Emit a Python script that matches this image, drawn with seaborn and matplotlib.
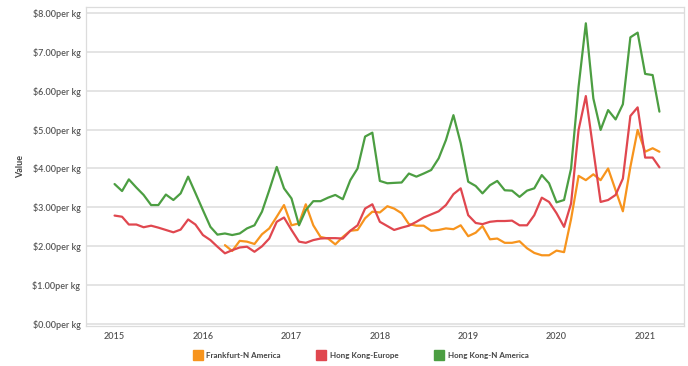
import numpy as np
import pandas as pd
import matplotlib
matplotlib.use("Agg")
import matplotlib.pyplot as plt
import matplotlib.dates as mdates
from matplotlib.lines import Line2D
import seaborn as sns

# Datos mensuales, enero 2015 - marzo 2021 (USD por kg)
meses = pd.date_range("2015-01-01", "2021-03-01", freq="MS")

frankfurt_n_america = [np.nan] * 15 + [
    2.03, 1.88, 2.14, 2.12, 2.06, 2.31, 2.46, 2.76, 3.06,
    2.54, 2.59, 3.08, 2.54, 2.24, 2.20, 2.05, 2.24, 2.40, 2.42, 2.72, 2.89,
    2.87, 3.03, 2.97, 2.85, 2.57, 2.53, 2.53, 2.40, 2.42, 2.46, 2.44, 2.54,
    2.26, 2.35, 2.52, 2.18, 2.20, 2.09, 2.09, 2.13, 1.95, 1.83, 1.77, 1.77,
    1.89, 1.85, 2.70, 3.81, 3.70, 3.85, 3.70, 4.00, 3.44, 2.90, 4.04, 4.99,
    4.43, 4.52, 4.43]

hong_kong_europe = [
    2.79, 2.76, 2.56, 2.56, 2.49, 2.53, 2.48, 2.42, 2.36, 2.43, 2.69, 2.56,
    2.29, 2.16, 1.99, 1.82, 1.90, 1.97, 1.99, 1.86, 2.00, 2.20, 2.63, 2.74,
    2.42, 2.12, 2.09, 2.16, 2.20, 2.21, 2.21, 2.20, 2.40, 2.54, 2.97, 3.08,
    2.63, 2.52, 2.42, 2.48, 2.53, 2.63, 2.74, 2.82, 2.90, 3.06, 3.34, 3.49,
    2.80, 2.60, 2.57, 2.63, 2.65, 2.65, 2.66, 2.54, 2.54, 2.80, 3.25, 3.14,
    2.85, 2.50, 3.10, 4.99, 5.86, 4.47, 3.14, 3.19, 3.32, 3.74, 5.35, 5.57,
    4.28, 4.28, 4.03]

hong_kong_n_america = [
    3.60, 3.42, 3.72, 3.51, 3.32, 3.06, 3.06, 3.33, 3.19, 3.36, 3.79, 3.37,
    2.93, 2.50, 2.30, 2.33, 2.29, 2.33, 2.46, 2.54, 2.89, 3.44, 4.04, 3.49,
    3.23, 2.54, 2.93, 3.16, 3.16, 3.25, 3.32, 3.21, 3.70, 4.00, 4.82, 4.92,
    3.68, 3.62, 3.63, 3.64, 3.87, 3.79, 3.87, 3.96, 4.26, 4.73, 5.37, 4.65,
    3.66, 3.55, 3.36, 3.57, 3.68, 3.44, 3.43, 3.27, 3.43, 3.49, 3.83, 3.62,
    3.13, 3.19, 4.00, 6.10, 7.73, 5.80, 4.99, 5.50, 5.26, 5.65, 7.37, 7.49,
    6.43, 6.40, 5.46]

rutas = ["Frankfurt-N America", "Hong Kong-Europe", "Hong Kong-N America"]
colores = ["#f7941d", "#e0474f", "#4c9e42"]


# Armar tabla larga para seaborn
def armar_datos():
    df = pd.DataFrame({
        "Fecha": meses,
        rutas[0]: frankfurt_n_america,
        rutas[1]: hong_kong_europe,
        rutas[2]: hong_kong_n_america,
    })
    df = df.melt(id_vars="Fecha", var_name="Ruta", value_name="Value")
    return df.dropna()


# Graficar las tres rutas
def grafico_rutas(df):
    sns.set_style("white")
    plt.rcParams["font.family"] = ["Lato", "DejaVu Sans"]

    fig = plt.figure(figsize=(6.88, 3.66), dpi=100)
    ax = fig.add_axes([0.125, 0.109, 0.869, 0.872])

    sns.lineplot(data=df, x="Fecha", y="Value", hue="Ruta", hue_order=rutas,
                 palette=dict(zip(rutas, colores)), estimator=None,
                 linewidth=1.6, legend=False, ax=ax)

    ax.set_ylim(-0.05, 8.15)
    ax.set_xlim(pd.Timestamp("2014-09-05"), pd.Timestamp("2021-06-10"))
    ax.set_yticks(np.arange(0, 9, 1))
    ax.yaxis.set_major_formatter(lambda v, pos: "${:.2f}per kg".format(v))
    ax.xaxis.set_major_locator(mdates.YearLocator())
    ax.xaxis.set_major_formatter(mdates.DateFormatter("%Y"))
    ax.xaxis.set_minor_locator(mdates.MonthLocator())

    ax.yaxis.grid(True, color="#e2e2e2", linewidth=1.3)
    ax.xaxis.grid(False)
    for lado in ax.spines.values():
        lado.set_color("#dcdcdc")
        lado.set_linewidth(0.9)

    ax.tick_params(axis="y", length=0, labelsize=6.5, labelcolor="#555555", pad=4)
    ax.tick_params(axis="x", which="major", length=0, labelsize=6.5,
                   labelcolor="#555555", pad=4)
    ax.tick_params(axis="x", which="minor", length=2, color="#cccccc")
    for t in ax.get_xticklabels() + ax.get_yticklabels():
        t.set_fontweight("semibold")

    ax.set_xlabel("")
    ax.set_ylabel("Value", fontsize=6.5, color="#444444", fontweight="bold",
                  labelpad=5)

    # Leyenda con cuadrados abajo
    handles = [Line2D([], [], marker="s", linestyle="none", markersize=6.5,
                      color=c) for c in colores]
    leg = fig.legend(handles, rutas, loc="center", ncol=3,
                     bbox_to_anchor=(0.525, 0.03), frameon=False,
                     fontsize=5.8, handlelength=0.9, handletextpad=0.6,
                     columnspacing=4.6)
    for t in leg.get_texts():
        t.set_color("#444444")
        t.set_fontweight("bold")

    fig.savefig("out.png", dpi=100)
    plt.close(fig)


def main():
    df = armar_datos()
    grafico_rutas(df)


if __name__ == "__main__":
    main()
